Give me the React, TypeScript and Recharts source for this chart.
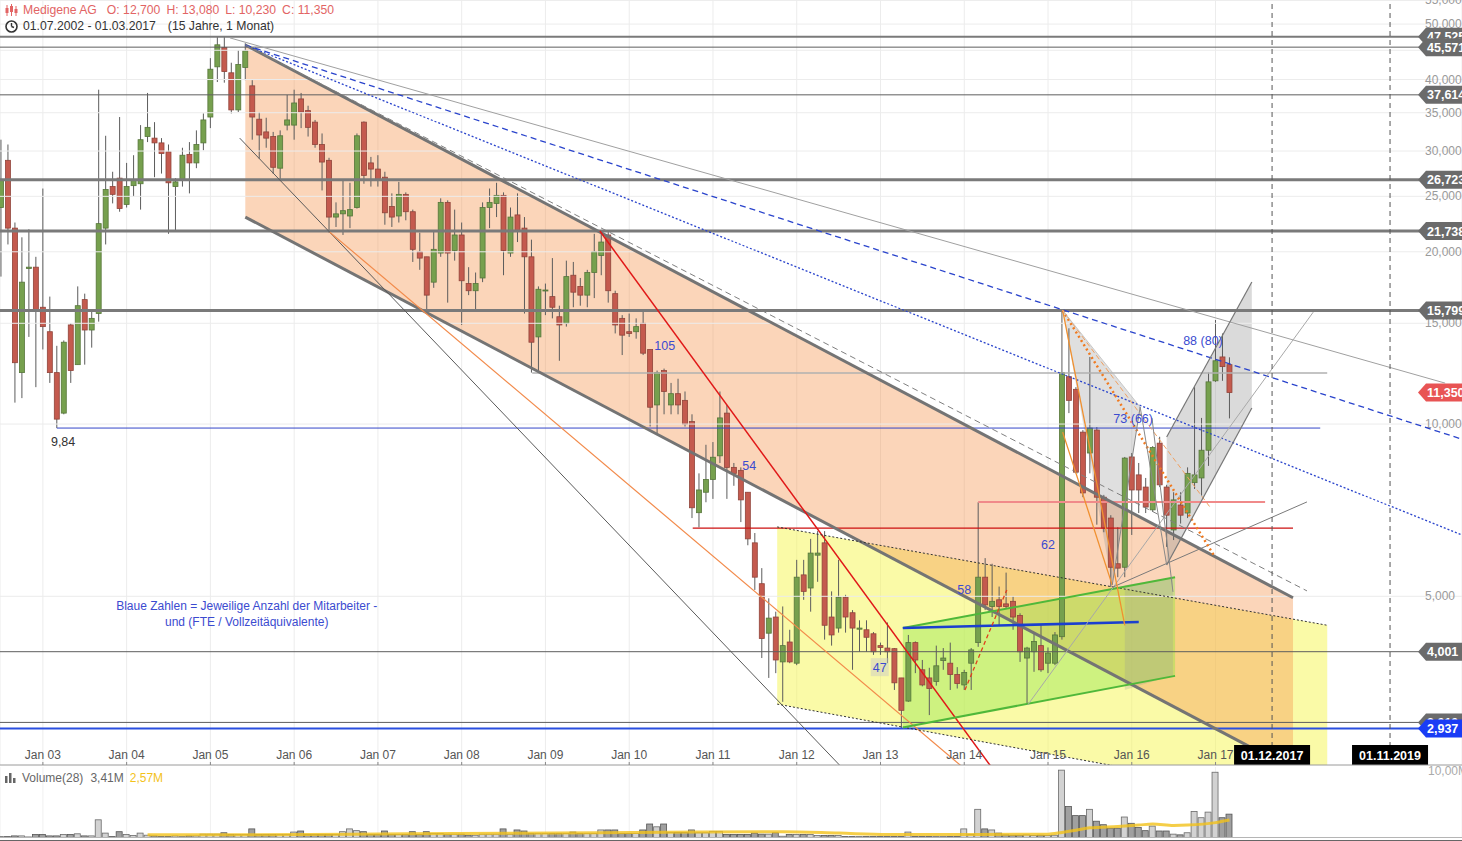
import React from 'react';
import {
  ComposedChart,
  Bar,
  Area,
  Line,
  XAxis,
  YAxis,
  CartesianGrid,
  ReferenceLine,
  ReferenceDot,
} from 'recharts';

const FONT = '"Liberation Sans", Arial, sans-serif';

// Monatskerzen Medigene AG, Index 0 = Jul 2002 ... 176 = Mär 2017
const opens = [
  23.9, 28.9, 22.0, 12.3, 18.7, 18.8, 16.0, 14.5, 12.3, 10.45,
  14.9, 12.7, 16.5, 14.6, 15.6, 22.0, 26.0, 26.9, 24.2, 26.1,
  26.3, 31.8, 31.6, 31.0, 29.9, 26.0, 26.7, 29.6, 28.6, 31.0,
  34.4, 42.1, 45.5, 41.1, 35.4, 42.0, 39.0, 34.1, 32.4, 31.8,
  28.0, 33.3, 33.3, 37.0, 35.3, 33.7, 30.8, 28.9, 23.0, 23.3,
  23.1, 23.9, 33.7, 28.6, 27.9, 27.0, 24.0, 23.1, 25.2, 23.5,
  20.0, 19.6, 17.7, 19.9, 24.4, 20.1, 21.4, 17.6, 17.1, 18.0,
  23.9, 24.3, 25.1, 19.9, 23.2, 22.0, 19.6, 14.2, 17.1, 16.7,
  15.4, 15.0, 18.2, 17.4, 16.8, 18.4, 19.7, 21.4, 16.9, 15.3,
  14.5, 14.5, 15.0, 13.5, 10.8, 12.4, 10.8, 11.3, 11.0, 10.1,
  7.0, 7.6, 8.0, 8.8, 10.45, 8.4, 8.3, 7.6, 6.2, 5.26,
  4.31, 4.6, 3.84, 4.16, 3.82, 5.45, 5.17, 5.9, 6.2, 4.6,
  4.4, 4.98, 4.68, 4.38, 4.37, 4.3, 4.1, 4.06, 4.05, 3.6,
  3.28, 4.15, 3.72, 3.6, 3.55, 3.86, 3.82, 3.65, 3.5, 3.82,
  4.15, 5.4, 4.8, 4.93, 4.85, 4.9, 4.63, 3.9, 4.0, 4.1,
  3.82, 3.82, 4.25, 12.1, 11.5, 9.68, 8.9, 9.76, 7.45, 6.85,
  5.7, 5.62, 8.76, 8.15, 7.76, 7.08, 9.26, 7.76, 6.53, 7.22,
  6.99, 7.9, 8.05, 9.0, 11.9, 13.1, 12.7,
];
const highs = [
  31.4, 30.8, 22.5, 21.2, 21.9, 19.6, 25.8, 16.7, 13.7, 14.0,
  15.0, 17.4, 16.9, 15.8, 38.4, 31.9, 27.6, 34.4, 28.6, 29.5,
  33.3, 37.9, 33.7, 31.6, 30.8, 26.9, 30.4, 31.1, 32.6, 34.9,
  43.6, 47.5, 47.525, 42.8, 45.0, 46.3, 39.9, 35.1, 34.3, 32.4,
  32.6, 37.6, 38.4, 37.9, 36.0, 34.0, 32.2, 29.2, 24.4, 26.7,
  26.4, 32.2, 33.8, 29.3, 29.5, 27.6, 25.3, 26.5, 25.4, 23.7,
  21.6, 19.6, 21.8, 24.8, 24.6, 23.7, 22.5, 18.8, 18.4, 24.4,
  25.8, 26.4, 25.4, 23.9, 25.3, 23.0, 21.0, 17.4, 17.6, 19.5,
  16.1, 19.3, 19.2, 18.0, 18.6, 21.5, 21.74, 21.7, 17.1, 15.5,
  15.6, 15.3, 15.7, 13.5, 12.4, 12.5, 11.8, 12.0, 11.4, 10.4,
  8.2, 9.2, 9.3, 11.4, 10.8, 8.55, 8.4, 7.6, 6.45, 5.6,
  4.96, 4.7, 4.8, 4.37, 5.79, 5.79, 6.3, 6.5, 6.5, 5.1,
  5.79, 5.03, 4.73, 4.54, 4.54, 4.33, 4.15, 4.5, 4.06, 3.6,
  4.28, 4.17, 3.87, 3.75, 4.1, 4.06, 4.15, 3.76, 3.72, 4.06,
  7.3, 5.83, 5.7, 5.2, 5.5, 5.0, 4.67, 4.08, 4.33, 4.45,
  4.07, 4.33, 15.8, 14.7, 11.6, 9.76, 13.1, 9.88, 7.52, 6.93,
  6.6, 8.76, 8.9, 8.55, 8.05, 9.15, 9.5, 7.83, 7.6, 7.6,
  8.4, 11.6, 10.25, 12.3, 15.2, 14.4, 13.08,
];
const lows = [
  18.1, 20.6, 10.9, 11.1, 14.2, 11.6, 13.5, 11.8, 9.84, 10.4,
  11.8, 12.7, 12.7, 13.6, 15.1, 20.6, 24.3, 23.5, 23.9, 25.0,
  23.7, 31.1, 27.0, 27.4, 21.5, 21.8, 26.0, 25.3, 28.0, 30.1,
  32.9, 39.6, 39.5, 34.9, 35.1, 39.9, 31.4, 29.1, 30.4, 27.4,
  26.7, 32.6, 31.4, 32.9, 31.8, 30.4, 25.6, 21.6, 22.1, 21.4,
  22.0, 23.8, 26.3, 26.0, 26.0, 22.3, 22.1, 22.5, 22.7, 19.2,
  18.6, 15.7, 17.3, 19.6, 16.3, 19.3, 14.9, 16.8, 15.8, 17.7,
  22.0, 23.0, 18.2, 19.6, 20.8, 15.6, 12.3, 12.3, 15.5, 15.3,
  12.9, 14.8, 16.0, 16.1, 16.0, 16.6, 18.2, 16.3, 14.4, 13.2,
  14.2, 14.1, 13.2, 9.9, 9.6, 10.4, 10.4, 10.4, 9.9, 6.85,
  6.6, 7.3, 7.4, 8.55, 7.4, 7.8, 6.74, 6.14, 5.13, 3.9,
  3.6, 3.67, 3.27, 3.82, 3.79, 4.93, 4.7, 5.3, 4.2, 4.1,
  4.32, 4.32, 3.72, 4.0, 4.0, 3.95, 3.95, 3.82, 3.43, 2.937,
  3.27, 3.67, 3.48, 3.1, 3.49, 3.72, 3.43, 3.45, 3.43, 3.43,
  4.08, 4.73, 4.6, 4.45, 4.75, 4.37, 3.84, 3.23, 3.69, 3.69,
  3.67, 3.79, 4.2, 10.45, 8.2, 7.45, 8.2, 6.67, 6.47, 5.19,
  5.4, 5.4, 6.4, 6.99, 6.99, 7.02, 7.76, 6.1, 6.27, 6.7,
  6.85, 7.7, 7.5, 8.45, 11.85, 11.9, 10.23,
];
const closes = [
  26.7, 22.0, 12.8, 17.7, 18.8, 15.8, 14.8, 12.3, 10.2, 13.9,
  12.4, 16.1, 14.6, 15.3, 22.4, 25.7, 25.2, 23.8, 26.0, 26.7,
  31.4, 33.0, 31.0, 29.7, 26.4, 26.5, 29.5, 28.6, 30.8, 34.0,
  41.7, 46.0, 41.3, 35.4, 42.5, 44.9, 34.4, 32.0, 31.6, 28.1,
  31.9, 34.0, 36.4, 35.1, 33.0, 30.8, 28.7, 23.0, 23.3, 23.6,
  23.7, 31.9, 27.2, 27.9, 26.7, 23.4, 23.0, 25.2, 23.5, 20.2,
  19.5, 16.8, 20.2, 24.4, 19.9, 21.4, 17.8, 17.1, 17.6, 23.9,
  24.4, 25.1, 20.1, 23.0, 21.8, 19.6, 13.9, 17.2, 17.15, 16.0,
  14.9, 18.1, 17.0, 16.8, 18.4, 20.0, 20.8, 17.1, 14.9, 14.3,
  14.4, 14.8, 13.3, 10.7, 12.3, 11.4, 11.3, 10.8, 10.0, 7.14,
  7.67, 8.0, 8.75, 10.25, 8.4, 8.2, 7.37, 6.3, 5.4, 4.22,
  4.58, 3.87, 4.1, 3.84, 5.4, 5.1, 5.95, 5.95, 4.45, 4.28,
  4.98, 4.6, 4.4, 4.4, 4.24, 4.0, 4.07, 4.0, 3.53, 3.16,
  4.15, 3.87, 3.5, 3.45, 3.78, 3.9, 3.65, 3.52, 3.68, 4.03,
  5.4, 4.83, 4.9, 4.8, 4.8, 4.6, 4.0, 4.06, 4.17, 3.72,
  3.98, 4.28, 12.3, 11.0, 8.24, 7.58, 9.84, 7.45, 6.58, 5.62,
  5.6, 8.72, 7.67, 7.67, 7.16, 9.1, 7.83, 6.93, 7.37, 6.93,
  8.2, 8.15, 9.0, 11.85, 12.9, 12.6, 11.35,
];
// Volumen in Mio. Stück
const volumes = [
  0.2, 0.2, 0.3, 0.3, 0.15, 0.5, 0.5, 0.3, 0.3, 0.5,
  0.5, 0.6, 0.3, 0.3, 2.6, 0.7, 0.2, 0.9, 0.5, 0.35,
  0.7, 0.4, 0.3, 0.2, 0.2, 0.3, 0.2, 0.3, 0.3, 0.55,
  0.55, 0.55, 0.75, 0.5, 0.5, 0.5, 1.3, 0.5, 0.5, 0.5,
  0.5, 0.5, 0.85, 1.0, 0.5, 0.5, 0.5, 0.5, 0.5, 0.9,
  1.3, 1.05, 0.9, 0.5, 0.5, 1.0, 0.5, 0.5, 0.5, 0.9,
  0.5, 0.9, 0.65, 0.65, 0.55, 0.55, 0.55, 0.4, 0.4, 0.55,
  0.55, 0.55, 1.3, 0.55, 1.15, 1.0, 0.65, 0.65, 0.65, 0.65,
  0.65, 0.65, 0.85, 0.65, 0.65, 0.65, 1.15, 1.15, 1.15, 0.65,
  0.65, 0.65, 1.15, 2.0, 1.6, 2.0, 0.8, 0.8, 0.8, 1.15,
  0.75, 0.75, 0.95, 0.95, 0.5, 0.5, 0.5, 0.5, 0.7, 0.55,
  0.55, 0.75, 0.25, 0.5, 0.5, 0.5, 0.5, 0.35, 0.35, 0.35,
  0.35, 0.2, 0.2, 0.2, 0.2, 0.2, 0.2, 0.2, 0.2, 0.2,
  0.85, 0.2, 0.2, 0.2, 0.2, 0.2, 0.2, 0.2, 1.3, 0.5,
  4.1, 1.3, 1.15, 0.7, 0.45, 0.4, 0.4, 0.45, 0.35, 0.4,
  0.35, 0.4, 9.7, 4.5, 3.2, 3.2, 4.1, 2.4, 1.9, 1.4,
  1.4, 3.0, 2.1, 1.5, 1.05, 1.7, 1.0, 1.0, 0.55, 0.45,
  0.75, 3.8, 2.9, 3.7, 9.4, 2.9, 3.41,
];
// gleitender Durchschnitt (28): [Monatsindex, Mio.]
const volumeAvg28 = [
  [21, 0.45], [35, 0.45], [50, 0.55], [65, 0.65], [86, 0.75], [100, 0.85],
  [112, 0.9], [120, 0.7], [127, 0.5], [140, 0.5], [150, 0.55], [152, 0.8],
  [154, 1.1], [156, 1.45], [160, 1.65], [163, 1.85], [165, 2.0], [168, 1.8],
  [170, 1.85], [174, 2.2], [176, 2.57],
];

const yearTicks = [6, 18, 30, 42, 54, 66, 78, 90, 102, 114, 126, 138, 150, 162, 174];
const yearLabels = ['Jan 03', 'Jan 04', 'Jan 05', 'Jan 06', 'Jan 07', 'Jan 08', 'Jan 09', 'Jan 10',
  'Jan 11', 'Jan 12', 'Jan 13', 'Jan 14', 'Jan 15', 'Jan 16', 'Jan 17'];
const priceTicks = [5, 10, 15, 20, 25, 30, 35, 40, 45, 50, 55];

// horizontale Marken (rechts beschriftet)
const levelValues = [47.525, 45.571, 37.614, 26.723, 21.738, 15.799, 4.001, 3.01];
const heavyLevels = [47.525, 26.723, 21.738, 15.799];
const lastClose = 11.35;
const yearLow = 2.937;

// Zukunftsmarken
const futureMarks = [{ x: 182.1, label: '01.12.2017' }, { x: 199.0, label: '01.11.2019' }];

// Kanäle / Flächen  [Monatsindex, [unten, oben]]
const peachChannel = [{ x: 35.0, band: [23.0, 45.96] }, { x: 185.1, band: [2.49, 4.97] }];
const yellowChannel = [{ x: 111.2, band: [3.24, 6.61] }, { x: 190.0, band: [2.16, 4.45] }];
const greenChannel = [{ x: 129.2, band: [2.95, 4.4] }, { x: 168.2, band: [3.63, 5.4] }];
const patternXAB = [{ x: 152.1, band: [15.8, 15.8] }, { x: 159.2, band: [5.23, 12.3] }, { x: 163.2, band: [10.71, 10.71] }];
const patternWedge = [{ x: 167.0, band: [5.67, 9.49] }, { x: 179.2, band: [10.67, 17.71] }];
const patternBase = [{ x: 161.0, band: [3.43, 5.23] }, { x: 167.9, band: [3.64, 5.4] }];

// Trendlinien [[x1, y1], [x2, y2]]
const channelTop = [[35.0, 45.96], [185.1, 4.97]];
const channelBottom = [[35.0, 23.0], [185.1, 2.49]];
const blueDashed = [[35.0, 45.96], [209.3, 9.41]];
const blueDotted = [[35.0, 45.96], [209.3, 6.4]];
const grayLong = [[32.8, 47.3], [206.9, 11.79]];
const grayDashed = [[35.0, 45.96], [187.1, 5.11]];
const redFall = [[85.8, 21.74], [143.1, 2.4]];
const darkFall = [[34.2, 31.6], [123.6, 2.29]];
const orangeFall = [[47.1, 21.65], [141.7, 2.29]];
const yellowTop = [[111.2, 6.61], [190.0, 4.45]];
const yellowBottom = [[111.2, 3.24], [190.0, 2.16]];
const greenTop = [[129.2, 4.4], [168.2, 5.4]];
const greenBottom = [[129.2, 2.95], [168.2, 3.63]];
const blueBase = [[129.2, 4.4], [163.0, 4.51]];
const redDashedUp = [[138.1, 3.43], [144.1, 5.13]];
const grayRise1 = [[147.1, 3.23], [188.0, 15.69]];
const grayRise2 = [[159.3, 5.19], [187.1, 7.31]];
const orangeXA1 = [[152.1, 15.8], [161.0, 4.45]];
const orangeXA2 = [[152.1, 9.68], [159.2, 5.23]];
const orangeDotted = [[152.1, 15.8], [173.9, 5.86]];
const orangeDashed = [[152.1, 15.8], [173.2, 7.16]];
const wedgeTop = [[167.0, 9.49], [179.2, 17.71]];
const wedgeBottom = [[167.0, 5.67], [179.2, 10.67]];
const patternAB = [[159.2, 5.23], [163.2, 10.71]];
const patternXB = [[152.1, 15.8], [163.2, 10.71]];
const patternBC = [[164.9, 10.24], [167.9, 5.09]];
const patternBC2 = [[163.2, 10.71], [167.0, 5.67]];

// waagerechte Teilstrecken
const low984 = [[8.0, 9.84], [189.0, 9.84]];
const grayMid = [[76.1, 12.28], [190.0, 12.28]];
const redSupport = [[99.1, 6.58], [185.1, 6.58]];
const pinkLine = [[140.0, 7.31], [181.1, 7.31]];

// Mitarbeiterzahlen
const staffNotes = [
  { x: 95.1, y: 13.74, text: '105' },
  { x: 107.2, y: 8.48, text: '54' },
  { x: 125.9, y: 3.76, text: '47', boxed: true },
  { x: 138.0, y: 5.13, text: '58' },
  { x: 150.0, y: 6.15, text: '62' },
  { x: 162.2, y: 10.24, text: '73 (66)' },
  { x: 172.2, y: 13.97, text: '88 (80)' },
];

const candles = opens.map((o, i) => ({
  x: i,
  open: o,
  high: highs[i],
  low: lows[i],
  close: closes[i],
  range: [lows[i], highs[i]],
  volume: volumes[i],
  volAvg: (volumeAvg28.find((p) => p[0] === i) || [0, null])[1],
}));

const fmt = (v: number) => v.toFixed(3).replace('.', ',');
const seg = (s: number[][]) => [{ x: s[0][0], y: s[0][1] }, { x: s[1][0], y: s[1][1] }];

function Candle(props: any) {
  let { x, y, width, height } = props;
  const p = props.payload;
  if (height == null || isNaN(height)) return null;
  if (height < 0) {
    y += height;
    height = -height;
  }
  const lh = Math.log(p.high);
  const span = lh - Math.log(p.low) || 1;
  const py = (v: number) => y + (height * (lh - Math.log(v))) / span;
  const up = p.close >= p.open;
  const top = py(Math.max(p.open, p.close));
  const bot = py(Math.min(p.open, p.close));
  const cx = x + width / 2;
  return (
    <g>
      <line x1={cx} x2={cx} y1={y} y2={y + height} stroke="#5c5c5c" strokeWidth={1} />
      <rect
        x={cx - 2.5}
        y={top}
        width={5}
        height={Math.max(1, bot - top)}
        fill={up ? '#76a04e' : '#c45a4e'}
        stroke={up ? '#56763a' : '#90443a'}
        strokeWidth={0.8}
      />
    </g>
  );
}

function VolumeBar(props: any) {
  let { x, y, width, height } = props;
  const p = props.payload;
  if (height == null || isNaN(height)) return null;
  if (height < 0) {
    y += height;
    height = -height;
  }
  const up = p.close >= p.open;
  const cx = x + width / 2;
  return (
    <rect
      x={cx - 3}
      y={y}
      width={6}
      height={Math.max(0.5, height)}
      fill={up ? '#d2d2d2' : '#a0a0a0'}
      stroke={up ? '#6a6a6a' : '#555'}
      strokeWidth={0.8}
    />
  );
}

function LevelTag({ viewBox, text, color }: any) {
  if (!viewBox) return null;
  const y = viewBox.y;
  const x0 = viewBox.x + viewBox.width - 44;
  return (
    <g>
      <polygon
        points={`${x0},${y} ${x0 + 8},${y - 9} ${x0 + 50},${y - 9} ${x0 + 50},${y + 9} ${x0 + 8},${y + 9}`}
        fill={color}
      />
      <text x={x0 + 9} y={y + 4.5} fill="#fff" fontSize={12.5} fontWeight="bold">
        {text}
      </text>
    </g>
  );
}

function PriceLabel({ viewBox, text }: any) {
  if (!viewBox) return null;
  return (
    <text x={viewBox.x + viewBox.width - 37} y={viewBox.y + 4} fill="#9a9a9a" fontSize={12}>
      {text}
    </text>
  );
}

function DateBox({ viewBox, text }: any) {
  if (!viewBox) return null;
  const cx = viewBox.x;
  const by = viewBox.y + viewBox.height;
  return (
    <g>
      <rect x={cx - 38} y={by - 20} width={76} height={20} fill="#000" />
      <text x={cx} y={by - 5.5} textAnchor="middle" fill="#fff" fontSize={12.5} fontWeight="bold">
        {text}
      </text>
    </g>
  );
}

function NoteText({ viewBox, text, boxed, color }: any) {
  if (!viewBox) return null;
  const cx = viewBox.x + viewBox.width / 2;
  const cy = viewBox.y + viewBox.height / 2;
  return (
    <g>
      {boxed && <rect x={cx - 9} y={cy - 9} width={18} height={18} fill="rgba(200,200,200,0.45)" />}
      <text x={cx} y={cy + 4.5} textAnchor="middle" fill={color || '#3b4bd0'} fontSize={12.5}>
        {text}
      </text>
    </g>
  );
}

function InfoText({ viewBox }: any) {
  if (!viewBox) return null;
  const cx = viewBox.x;
  const cy = viewBox.y;
  return (
    <text textAnchor="middle" fill="#3b4bd0" fontSize={12}>
      <tspan x={cx} y={cy + 4}>Blaue Zahlen = Jeweilige Anzahl der Mitarbeiter -</tspan>
      <tspan x={cx} y={cy + 20}>und (FTE / Vollzeitäquivalente)</tspan>
    </text>
  );
}

function YearTick({ x, y, payload }: any) {
  const idx = yearTicks.indexOf(payload.value);
  return (
    <g>
      <line x1={x} x2={x} y1={y - 3} y2={y} stroke="#888" />
      <text x={x} y={y - 6} textAnchor="middle" fill="#555" fontSize={12}>
        {yearLabels[idx]}
      </text>
    </g>
  );
}

const xDomain = [-0.143, 209.31];

export default function App() {
  return (
    <div
      style={{
        position: 'relative',
        width: 1462,
        height: 841,
        background: '#fff',
        overflow: 'hidden',
        fontFamily: FONT,
      }}
    >
      <style>{'body{margin:0}'}</style>

      <div style={{ position: 'absolute', left: 0, top: 0 }}>
        <ComposedChart width={1462} height={767} data={candles} margin={{ top: 0, right: 0, bottom: 0, left: 0 }}>
          <CartesianGrid stroke="#ececec" horizontal={false} />
          <XAxis
            type="number"
            dataKey="x"
            domain={xDomain}
            allowDataOverflow
            ticks={yearTicks}
            tick={<YearTick />}
            tickLine={false}
            tickSize={0}
            tickMargin={0}
            height={2}
            axisLine={{ stroke: '#9a9a9a' }}
            padding={{ left: 0, right: 0 }}
          />
          <YAxis
            type="number"
            scale="log"
            domain={[2.536, 55.09]}
            allowDataOverflow
            ticks={priceTicks}
            orientation="right"
            width={0}
            tick={false}
            axisLine={false}
            tickLine={false}
          />

          {priceTicks.map((v) => (
            <ReferenceLine key={'p' + v} y={v} stroke="#ececec" label={<PriceLabel text={fmt(v)} />} />
          ))}

          <Area data={yellowChannel} dataKey="band" type="linear" stroke="none" fill="rgb(245,245,80)" fillOpacity={0.5} isAnimationActive={false} dot={false} activeDot={false} />
          <Area data={peachChannel} dataKey="band" type="linear" stroke="none" fill="rgb(245,150,80)" fillOpacity={0.4} isAnimationActive={false} dot={false} activeDot={false} />
          <Area data={greenChannel} dataKey="band" type="linear" stroke="none" fill="rgb(140,230,70)" fillOpacity={0.4} isAnimationActive={false} dot={false} activeDot={false} />
          <Area data={patternBase} dataKey="band" type="linear" stroke="none" fill="rgb(150,150,150)" fillOpacity={0.25} isAnimationActive={false} dot={false} activeDot={false} />
          <Area data={patternXAB} dataKey="band" type="linear" stroke="none" fill="rgb(150,150,150)" fillOpacity={0.3} isAnimationActive={false} dot={false} activeDot={false} />
          <Area data={patternWedge} dataKey="band" type="linear" stroke="none" fill="rgb(150,150,150)" fillOpacity={0.35} isAnimationActive={false} dot={false} activeDot={false} />

          {levelValues.map((v) => (
            <ReferenceLine
              key={v}
              y={v}
              stroke={heavyLevels.includes(v) ? '#7a7a7a' : '#5e5e5e'}
              strokeWidth={heavyLevels.includes(v) ? (v === 47.525 ? 2 : 3) : 1}
              label={<LevelTag text={fmt(v)} color="#6b6b6b" />}
            />
          ))}
          <ReferenceLine y={yearLow} stroke="#2a4fe0" strokeWidth={2} label={<LevelTag text={fmt(yearLow)} color="#1a3cf5" />} />
          <ReferenceLine y={lastClose} stroke="none" label={<LevelTag text={fmt(lastClose)} color="#e85454" />} />

          <ReferenceLine segment={seg(low984)} stroke="#3446c8" strokeWidth={1} ifOverflow="hidden" />
          <ReferenceLine segment={seg(grayMid)} stroke="#b0b0b0" strokeWidth={1.5} ifOverflow="hidden" />
          <ReferenceLine segment={seg(redSupport)} stroke="#cc1111" strokeWidth={1.2} ifOverflow="hidden" />
          <ReferenceLine segment={seg(pinkLine)} stroke="#f08a8a" strokeWidth={2} ifOverflow="hidden" />

          <Bar dataKey="range" barSize={5} isAnimationActive={false} shape={(p: any) => <Candle {...p} />} />

          <ReferenceLine segment={seg(channelTop)} stroke="#747474" strokeWidth={3} ifOverflow="hidden" />
          <ReferenceLine segment={seg(channelBottom)} stroke="#747474" strokeWidth={3} ifOverflow="hidden" />
          <ReferenceLine segment={seg(blueDashed)} stroke="#2a44cc" strokeWidth={1.3} strokeDasharray="6 4" ifOverflow="hidden" />
          <ReferenceLine segment={seg(blueDotted)} stroke="#2a44cc" strokeWidth={1.3} strokeDasharray="2 2" ifOverflow="hidden" />
          <ReferenceLine segment={seg(grayLong)} stroke="#a0a0a0" strokeWidth={1} ifOverflow="hidden" />
          <ReferenceLine segment={seg(grayDashed)} stroke="#808080" strokeWidth={1} strokeDasharray="6 4" ifOverflow="hidden" />
          <ReferenceLine segment={seg(redFall)} stroke="#e01818" strokeWidth={1.5} ifOverflow="hidden" />
          <ReferenceLine segment={seg(darkFall)} stroke="#5a5a5a" strokeWidth={1} ifOverflow="hidden" />
          <ReferenceLine segment={seg(orangeFall)} stroke="#f28a4a" strokeWidth={1.2} ifOverflow="hidden" />
          <ReferenceLine segment={seg(yellowTop)} stroke="#333" strokeWidth={1} strokeDasharray="2 2" ifOverflow="hidden" />
          <ReferenceLine segment={seg(yellowBottom)} stroke="#333" strokeWidth={1} strokeDasharray="2 2" ifOverflow="hidden" />
          <ReferenceLine segment={seg(greenTop)} stroke="#4fb83a" strokeWidth={2} ifOverflow="hidden" />
          <ReferenceLine segment={seg(greenBottom)} stroke="#4fb83a" strokeWidth={2} ifOverflow="hidden" />
          <ReferenceLine segment={seg(blueBase)} stroke="#1b3fcf" strokeWidth={2.5} ifOverflow="hidden" />
          <ReferenceLine segment={seg(redDashedUp)} stroke="#e0401c" strokeWidth={1.3} strokeDasharray="4 3" ifOverflow="hidden" />
          <ReferenceLine segment={seg(grayRise1)} stroke="#a8a8a8" strokeWidth={1} ifOverflow="hidden" />
          <ReferenceLine segment={seg(grayRise2)} stroke="#7a7a7a" strokeWidth={1} ifOverflow="hidden" />
          <ReferenceLine segment={seg(orangeXA1)} stroke="#f09030" strokeWidth={1.3} ifOverflow="hidden" />
          <ReferenceLine segment={seg(orangeXA2)} stroke="#f09030" strokeWidth={1.3} ifOverflow="hidden" />
          <ReferenceLine segment={seg(orangeDotted)} stroke="#f07a20" strokeWidth={2.5} strokeDasharray="2 3" ifOverflow="hidden" />
          <ReferenceLine segment={seg(orangeDashed)} stroke="#f0a060" strokeWidth={1} strokeDasharray="5 3" ifOverflow="hidden" />
          <ReferenceLine segment={seg(wedgeTop)} stroke="#777" strokeWidth={1.2} ifOverflow="hidden" />
          <ReferenceLine segment={seg(wedgeBottom)} stroke="#777" strokeWidth={1.2} ifOverflow="hidden" />
          <ReferenceLine segment={seg(patternAB)} stroke="#888" strokeWidth={1} ifOverflow="hidden" />
          <ReferenceLine segment={seg(patternXB)} stroke="#bbb" strokeWidth={0.8} ifOverflow="hidden" />
          <ReferenceLine segment={seg(patternBC)} stroke="#888" strokeWidth={1} ifOverflow="hidden" />
          <ReferenceLine segment={seg(patternBC2)} stroke="#888" strokeWidth={1} ifOverflow="hidden" />

          {futureMarks.map((m) => (
            <ReferenceLine
              key={m.label}
              x={m.x}
              stroke="#555"
              strokeDasharray="5 4"
              ifOverflow="hidden"
              label={<DateBox text={m.label} />}
            />
          ))}

          {staffNotes.map((n) => (
            <ReferenceDot
              key={n.text}
              x={n.x}
              y={n.y}
              r={0}
              fill="none"
              stroke="none"
              label={<NoteText text={n.text} boxed={n.boxed} />}
            />
          ))}
          <ReferenceDot x={8.9} y={9.34} r={0} fill="none" stroke="none" label={<NoteText text="9,84" color="#333" />} />
          <ReferenceDot x={35.2} y={4.81} r={0} fill="none" stroke="none" label={<InfoText />} />
        </ComposedChart>
      </div>

      <div style={{ position: 'absolute', left: 0, top: 767 }}>
        <ComposedChart width={1462} height={71} data={candles} margin={{ top: 0, right: 0, bottom: 0, left: 0 }}>
          <CartesianGrid stroke="#f0f0f0" horizontal={false} />
          <XAxis type="number" dataKey="x" domain={xDomain} allowDataOverflow ticks={yearTicks} hide padding={{ left: 0, right: 0 }} />
          <YAxis type="number" domain={[0, 10.15]} allowDataOverflow hide />
          <Bar dataKey="volume" barSize={6} isAnimationActive={false} shape={(p: any) => <VolumeBar {...p} />} />
          <Line
            dataKey="volAvg"
            connectNulls
            type="monotone"
            stroke="#f2c21a"
            strokeOpacity={0.8}
            strokeWidth={3}
            dot={false}
            activeDot={false}
            isAnimationActive={false}
          />
        </ComposedChart>
      </div>

      <div
        style={{
          position: 'absolute',
          left: 0,
          top: 837,
          width: 1462,
          height: 2,
          borderTop: '1px solid #b5b5b5',
          borderBottom: '1px solid #666',
        }}
      />

      <div style={{ position: 'absolute', left: 1428, top: 764, fontSize: 12, color: '#aaa' }}>10,00M</div>

      <div
        style={{
          position: 'absolute',
          left: 5,
          top: 771,
          fontSize: 12,
          color: '#666',
          display: 'flex',
          alignItems: 'center',
          whiteSpace: 'nowrap',
        }}
      >
        <svg width={11} height={10} style={{ marginRight: 6 }}>
          <rect x={0} y={3} width={2.5} height={7} fill="#666" />
          <rect x={4} y={0} width={2.5} height={10} fill="#666" />
          <rect x={8} y={5} width={2.5} height={5} fill="#666" />
        </svg>
        <span style={{ marginRight: 7 }}>Volume(28)</span>
        <span style={{ marginRight: 6 }}>3,41M</span>
        <span style={{ color: '#f3c21a' }}>2,57M</span>
      </div>

      <div
        style={{
          position: 'absolute',
          left: 5,
          top: 3,
          fontSize: 12.2,
          color: '#e26464',
          display: 'flex',
          alignItems: 'center',
          whiteSpace: 'nowrap',
        }}
      >
        <svg width={13} height={13} style={{ marginRight: 5 }}>
          <line x1={2} x2={2} y1={1} y2={12} stroke="#e26464" />
          <rect x={0.5} y={4} width={3} height={5} fill="#e26464" />
          <line x1={6.5} x2={6.5} y1={0} y2={12} stroke="#e26464" />
          <rect x={5} y={2} width={3} height={6} fill="#e26464" />
          <line x1={11} x2={11} y1={2} y2={12} stroke="#e26464" />
          <rect x={9.5} y={5} width={3} height={4} fill="#e26464" />
        </svg>
        <span style={{ marginRight: 10 }}>Medigene AG</span>
        <span style={{ marginRight: 6 }}>O: 12,700</span>
        <span style={{ marginRight: 6 }}>H: 13,080</span>
        <span style={{ marginRight: 6 }}>L: 10,230</span>
        <span>C: 11,350</span>
      </div>
      <div
        style={{
          position: 'absolute',
          left: 5,
          top: 19,
          fontSize: 12.2,
          color: '#333',
          display: 'flex',
          alignItems: 'center',
          whiteSpace: 'nowrap',
        }}
      >
        <svg width={13} height={13} style={{ marginRight: 5 }}>
          <circle cx={6.5} cy={6.5} r={5.5} fill="none" stroke="#333" strokeWidth={1.6} />
          <line x1={6.5} y1={6.5} x2={6.5} y2={3} stroke="#333" strokeWidth={1.4} />
          <line x1={6.5} y1={6.5} x2={9} y2={7.5} stroke="#333" strokeWidth={1.4} />
        </svg>
        <span style={{ marginRight: 12 }}>01.07.2002 - 01.03.2017</span>
        <span>(15 Jahre, 1 Monat)</span>
      </div>
    </div>
  );
}
